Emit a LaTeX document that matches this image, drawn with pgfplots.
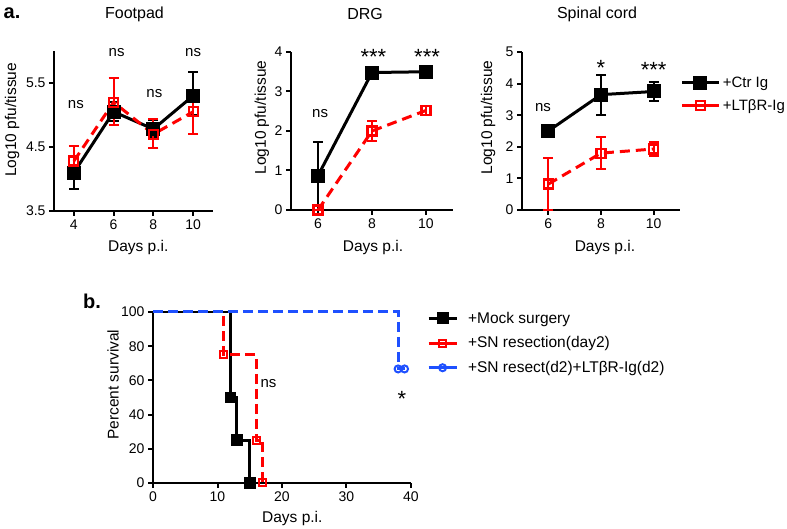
\documentclass[border=0pt]{standalone}
\usepackage{pgfplots}
\pgfplotsset{compat=1.18}
\usepackage{fontspec}
\setmainfont{Liberation Sans}
\definecolor{myred}{RGB}{255,0,0}
\definecolor{myblue}{RGB}{30,80,255}

\tikzset{sig/.style={font=\fontsize{15}{17}\selectfont},
         ast/.style={font=\fontsize{22}{24}\selectfont, yshift=-5pt}}
\pgfplotsset{
  gp/.style={
    scale only axis,
    axis lines=left,
    axis line style={-, line width=2pt},
    tick align=outside,
    major tick length=5pt,
    every tick/.style={black, line width=2pt},
    /pgf/number format/assume math mode=true,
    tick label style={font=\fontsize{14}{16}\selectfont},
    label style={font=\fontsize{15.5}{18}\selectfont},
    title style={font=\fontsize{16}{18}\selectfont, anchor=center},
    clip=false,
    xlabel={Days p.i.},
  },
  ctr/.style={black, line width=3pt, mark=square*, mark size=5.5pt, mark options={solid},
    /pgfplots/error bars/y dir=both, /pgfplots/error bars/y explicit,
    /pgfplots/error bars/error bar style={line width=2pt, solid},
    /pgfplots/error bars/error mark options={rotate=90, mark size=5pt, line width=2pt}},
  ltb/.style={myred, line width=3pt, dash pattern=on 10pt off 6pt, mark=square, mark size=4.5pt,
    mark options={solid, fill=white, line width=2.2pt},
    /pgfplots/error bars/y dir=both, /pgfplots/error bars/y explicit,
    /pgfplots/error bars/error bar style={line width=2pt, solid},
    /pgfplots/error bars/error mark options={rotate=90, mark size=5pt, line width=2pt}},
}

\begin{document}
\begin{tikzpicture}
\useasboundingbox (0,0) rectangle (787pt,529pt);

% ---------- Footpad ----------
\begin{axis}[gp, at={(54pt,318pt)}, anchor=south west, width=159pt, height=160pt,
  xmin=3, xmax=11, ymin=3.5, ymax=6,
  xtick={4,6,8,10}, ytick={3.5,4.5,5.5},
  yticklabels={3.5,4.5,5.5},
  ylabel={Log10 pfu/tissue}, title={Footpad},
  title style={at={(axis description cs:0.506,1.194)}},
  xlabel style={at={(axis description cs:0.53,-0.231)}, anchor=center},
  ylabel style={at={(axis description cs:-0.264,0.57)}, anchor=center}]
\addplot[ctr] coordinates {
 (4,4.1) += (0,0.25) -= (0,0.25)
 (6,5.05) += (0,0.15) -= (0,0.15)
 (8,4.78) += (0,0.14) -= (0,0.12)
 (10,5.3) += (0,0.37) -= (0,0.3)
};
\addplot[ltb] coordinates {
 (4,4.28) += (0,0.24) -= (0,0.22)
 (6,5.2) += (0,0.38) -= (0,0.35)
 (8,4.7) += (0,0.23) -= (0,0.22)
 (10,5.05) += (0,0.33) -= (0,0.35)
};
\node[sig] at (axis cs:4.1,5.16) {ns};
\node[sig] at (axis cs:6.15,5.97) {ns};
\node[sig] at (axis cs:8.05,5.34) {ns};
\node[sig] at (axis cs:10,5.98) {ns};
\end{axis}

% ---------- DRG ----------
\begin{axis}[gp, at={(291pt,319pt)}, anchor=south west, width=162pt, height=158pt,
  xmin=5, xmax=11, ymin=0, ymax=4,
  xtick={6,8,10}, ytick={0,1,2,3,4},
  ylabel={Log10 pfu/tissue}, title={DRG},
  title style={at={(axis description cs:0.457,1.2)}},
  xlabel style={at={(axis description cs:0.506,-0.24)}, anchor=center},
  ylabel style={at={(axis description cs:-0.18,0.585)}, anchor=center}]
\addplot[ctr] coordinates {
 (6,0.87) += (0,0.85) -= (0,0.87)
 (8,3.48) += (0,0.05) -= (0,0.05)
 (10,3.5) += (0,0.05) -= (0,0.05)
};
\addplot[ltb] coordinates {
 (6,0) += (0,0) -= (0,0)
 (8,2.0) += (0,0.25) -= (0,0.25)
 (10,2.52) += (0,0.12) -= (0,0.12)
};
\node[sig] at (axis cs:6.08,2.43) {ns};
\node[ast] at (axis cs:8.05,4.0) {***};
\node[ast] at (axis cs:10.04,4.0) {***};
\end{axis}

% ---------- Spinal cord ----------
\begin{axis}[gp, at={(522pt,319pt)}, anchor=south west, width=158pt, height=158pt,
  xmin=5, xmax=11, ymin=0, ymax=5,
  xtick={6,8,10}, ytick={0,1,2,3,4,5},
  ylabel={Log10 pfu/tissue}, title={Spinal cord},
  title style={at={(axis description cs:0.475,1.2)}},
  xlabel style={at={(axis description cs:0.525,-0.24)}, anchor=center},
  ylabel style={at={(axis description cs:-0.215,0.585)}, anchor=center},
  legend style={draw=none, fill=none, at={(axis description cs:0.985,0.87)}, anchor=north west,
    font=\fontsize{15}{18}\selectfont, row sep=7pt},
  legend cell align=left,
  legend image code/.code={\draw[#1, solid, mark repeat=2, mark phase=2] plot coordinates {(0pt,0pt) (18pt,0pt) (37pt,0pt)};}]
\addplot[ctr] coordinates {
 (6,2.5) += (0,0.05) -= (0,0.05)
 (8,3.65) += (0,0.63) -= (0,0.63)
 (10,3.75) += (0,0.3) -= (0,0.3)
};
\addlegendentry{+Ctr Ig}
\addplot[ltb] coordinates {
 (6,0.82) += (0,0.81) -= (0,0.82)
 (8,1.8) += (0,0.5) -= (0,0.5)
 (10,1.93) += (0,0.21) -= (0,0.21)
};
\addlegendentry{+LTβR-Ig}
\node[sig] at (axis cs:5.8,3.23) {ns};
\node[ast] at (axis cs:8,4.65) {*};
\node[ast] at (axis cs:10,4.6) {***};
\end{axis}

% ---------- Survival ----------
\begin{axis}[gp, at={(153pt,46pt)}, anchor=south west, width=258pt, height=171pt,
  xmin=0, xmax=40, ymin=0, ymax=100,
  xtick={0,10,20,30,40}, ytick={0,20,40,60,80,100},
  ylabel={Percent survival},
  xlabel style={at={(axis description cs:0.54,-0.205)}, anchor=center},
  ylabel style={at={(axis description cs:-0.155,0.575)}, anchor=center},
  legend style={draw=none, fill=none, at={(axis description cs:1.05,1.025)}, anchor=north west,
    font=\fontsize{15.5}{18}\selectfont, row sep=8pt,
    /tikz/every odd column/.append style={column sep=8pt}},
  legend cell align=left,
  legend image code/.code={\draw[#1, solid, mark repeat=2, mark phase=2] plot coordinates {(0pt,0pt) (14pt,0pt) (28pt,0pt)};}]
\addlegendimage{black, line width=3pt, mark=square*, mark size=4.5pt, mark options={solid}}
\addlegendentry{+Mock surgery}
\addlegendimage{myred, line width=3pt, mark=square, mark size=3.5pt, mark options={solid, fill=white, line width=2pt}}
\addlegendentry{+SN resection(day2)}
\addlegendimage{myblue, line width=3pt, mark=o, mark size=3.5pt, mark options={solid, fill=white, line width=2pt}}
\addlegendentry{+SN resect(d2)+LTβR-Ig(d2)}
\addplot[forget plot, black, line width=2.8pt, const plot, mark=square*, mark size=4.5pt, mark options={solid}, mark indices={2,3,4}]
 coordinates {(0,100) (12,50) (13,25) (15,0)};
\addplot[forget plot, myred, line width=3pt, dash pattern=on 10pt off 5pt, const plot, mark=square, mark size=3.5pt,
  mark options={solid, fill=white, line width=2pt}, mark indices={2,3,4}]
 coordinates {(0,100) (11,75) (16,25) (17,0)};
\addplot[forget plot, myblue, line width=3pt, dash pattern=on 10pt off 5pt, const plot, mark=o, mark size=3.5pt,
  mark options={solid, fill=white, line width=2pt}, mark indices={2,3}]
 coordinates {(0,100) (38,66.7) (39,66.7)};
\node[sig] at (axis cs:17.9,58) {ns};
\node[ast] at (axis cs:38.6,52) {*};
\end{axis}

\node[font=\fontsize{20}{22}\selectfont\bfseries] at (12pt,516pt) {a.};
\node[font=\fontsize{20}{22}\selectfont\bfseries] at (92pt,228pt) {b.};
\end{tikzpicture}
\end{document}
